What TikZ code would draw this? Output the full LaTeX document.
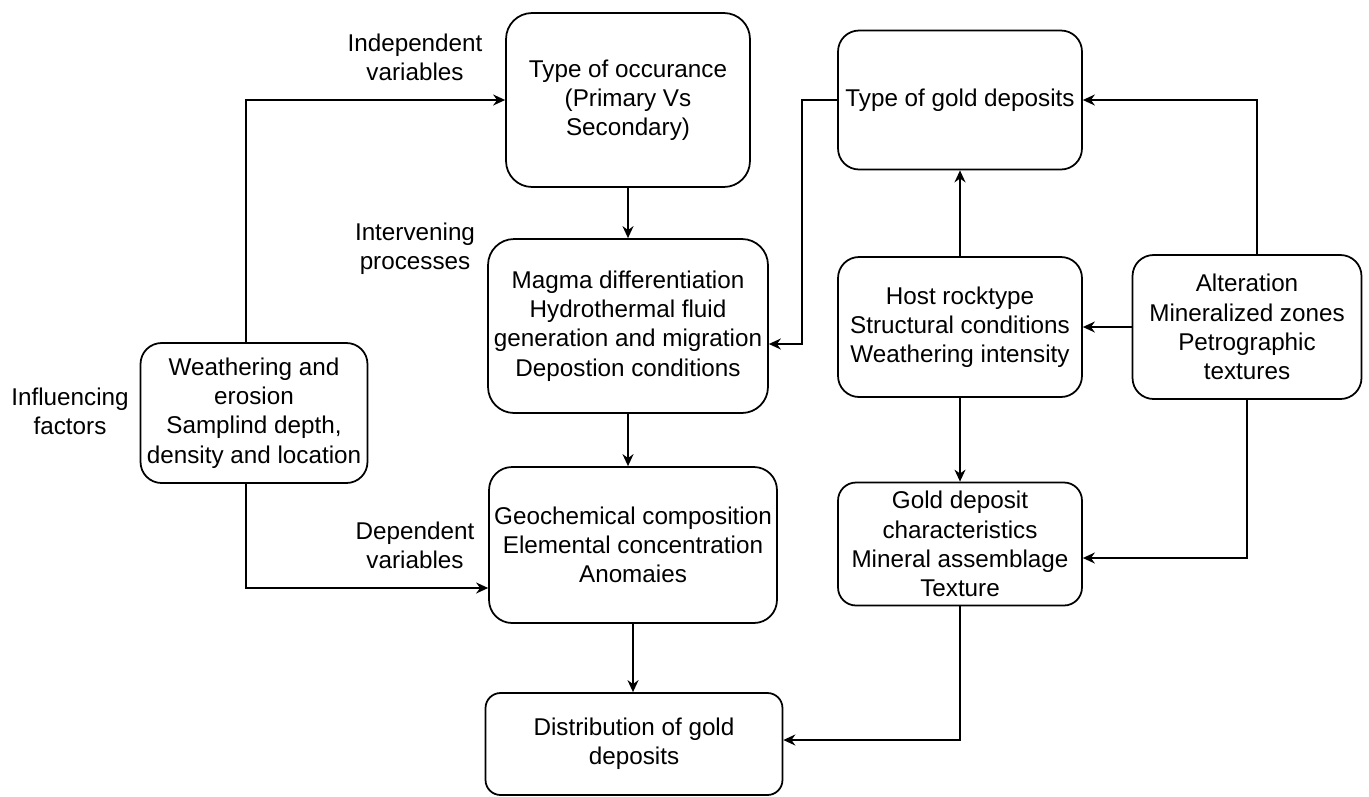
\documentclass[tikz,border=0pt]{standalone}
\usepackage{fontspec}
\setmainfont{Liberation Sans}
\usetikzlibrary{arrows.meta}

\begin{document}
\begin{tikzpicture}[x=0.02cm, y=-0.02cm,
  box/.style={draw, rounded corners=#1, align=center, inner sep=0pt, line width=1pt},
  lbl/.style={align=center, inner sep=0pt},
  arr/.style={-{Stealth[length=2.4mm, width=2.2mm]}, line width=1pt},
  font=\fontsize{13.8}{16.6}\selectfont]

  \useasboundingbox (0,0) rectangle (1369,796);

  % --- Middle column ---
  \node[box=0.52cm, minimum width=4.88cm, minimum height=3.48cm] (occur) at (628,100) {Type of occurance\\(Primary Vs\\Secondary)};
  \node[box=0.52cm, minimum width=5.6cm, minimum height=3.48cm] (magma) at (628,326) {Magma differentiation\\Hydrothermal fluid\\generation and migration\\Depostion conditions};
  \node[box=0.46cm, minimum width=5.76cm, minimum height=3.12cm] (geochem) at (633,545) {Geochemical composition\\Elemental concentration\\Anomaies};
  \node[box=0.3cm, minimum width=5.94cm, minimum height=2.04cm] (distr) at (634,744) {Distribution of gold\\deposits};

  % --- Left box ---
  \node[box=0.42cm, minimum width=4.54cm, minimum height=2.8cm] (weath) at (254,413) {Weathering and\\erosion\\Samplind depth,\\density and location};

  % --- Right columns ---
  \node[box=0.42cm, minimum width=4.88cm, minimum height=2.78cm] (types) at (960,100) {Type of gold deposits};
  \node[box=0.42cm, minimum width=4.88cm, minimum height=2.8cm] (host) at (960,327) {Host rocktype\\Structural conditions\\Weathering intensity};
  \node[box=0.42cm, minimum width=4.58cm, minimum height=2.88cm] (alter) at (1247,327) {Alteration\\Mineralized zones\\Petrographic\\textures};
  \node[box=0.36cm, minimum width=4.88cm, minimum height=2.46cm] (goldch) at (960,544) {Gold deposit\\characteristics\\Mineral assemblage\\Texture};

  % --- Side labels ---
  \node[lbl] (indep) at (415,57) {Independent\\variables};
  \node[lbl] (interv) at (415,249) {Intervening\\processes};
  \node[lbl] (influ) at (70,411) {Influencing\\factors};
  \node[lbl] (dep) at (415,545) {Dependent\\variables};

  % --- Connectors ---
  \draw[arr] ([xshift=-0.16cm]weath.north) |- (occur.west);
  \draw[arr] ([xshift=-0.16cm]weath.south) |- ([yshift=-0.86cm]geochem.west);
  \draw[arr] (occur.south) -- (magma.north);
  \draw[arr] (magma.south) -- (magma.south |- geochem.north);
  \draw[arr] (geochem.south) -- (geochem.south |- distr.north);
  \draw[arr] (types.west) -- ++(-35,0) |- ([yshift=-0.36cm]magma.east);
  \draw[arr] (host.north) -- (types.south);
  \draw[arr] (host.south) -- (goldch.north);
  \draw[arr] (alter.west) -- (host.east);
  \draw[arr] ([xshift=0.2cm]alter.north) |- (types.east);
  \draw[arr] (alter.south) |- ([yshift=-0.28cm]goldch.east);
  \draw[arr] (goldch.south) |- ([yshift=0.08cm]distr.east);

\end{tikzpicture}
\end{document}
